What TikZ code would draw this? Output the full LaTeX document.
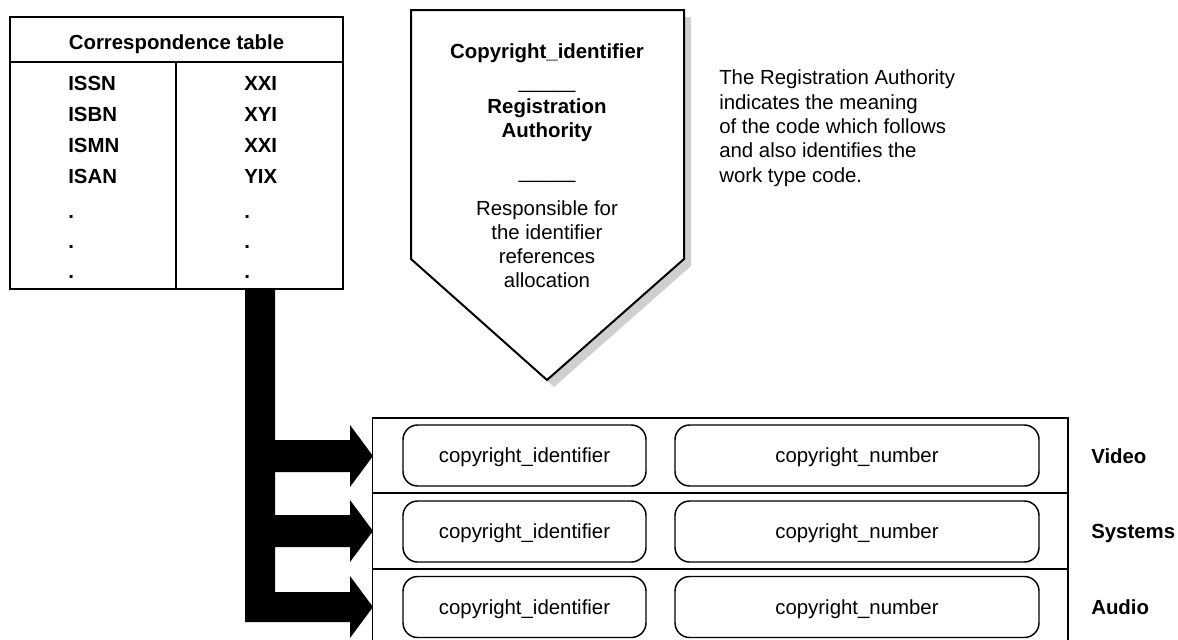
\documentclass[tikz,border=0pt]{standalone}
\usepackage{fontspec}
\setmainfont{Liberation Sans}
\begin{document}
\begin{tikzpicture}[x=0.75pt,y=-0.75pt,
  every node/.style={font=\fontsize{15.3pt}{18.2pt}\selectfont, inner sep=0pt},
  bftext/.style={font=\fontsize{15.3pt}{18.2pt}\selectfont\bfseries},
  tline/.style={line width=1.5pt},
  rbox/.style={draw, line width=1.1pt, rounded corners=11pt, inner sep=0pt,
    text height=10.95pt, text depth=0pt, minimum height=45.75pt},
  idbox/.style={rbox, minimum width=182.25pt},
  numbox/.style={rbox, minimum width=273pt},
  shadowfill/.style={fill=black!19, draw=none},
]
\useasboundingbox (0,0) rectangle (1178,639);
\clip (0,0) rectangle (1178,639);

% ---------- correspondence table ----------
\node[draw, tline, minimum width=249.75pt, minimum height=204pt] (tbl) at (176.5,153) {};
\coordinate (hl) at (10,62);
\coordinate (hr) at (343,62);
\draw[tline] (hl) -- (hr);
\coordinate (vt) at (176,62);
\coordinate (vb) at (176,289);
\draw[tline] (vt) -- (vb);
\node[bftext, anchor=base] (thead) at (176.5,49) {Correspondence table};
\node[bftext, anchor=base west] (l1) at (68,90) {ISSN};
\node[bftext, anchor=base west] (l2) at (68,121) {ISBN};
\node[bftext, anchor=base west] (l3) at (68,152) {ISMN};
\node[bftext, anchor=base west] (l4) at (68,183) {ISAN};
\node[bftext, anchor=base west] (l5) at (68,218) {.};
\node[bftext, anchor=base west] (l6) at (68,248) {.};
\node[bftext, anchor=base west] (l7) at (68,278) {.};
\node[bftext, anchor=base west] (r1) at (244,90) {XXI};
\node[bftext, anchor=base west] (r2) at (244,121) {XYI};
\node[bftext, anchor=base west] (r3) at (244,152) {XXI};
\node[bftext, anchor=base west] (r4) at (244,183) {YIX};
\node[bftext, anchor=base west] (r5) at (244,218) {.};
\node[bftext, anchor=base west] (r6) at (244,248) {.};
\node[bftext, anchor=base west] (r7) at (244,278) {.};

% ---------- branching black arrow ----------
\fill[black] (245,289) -- (275,289) -- (275,440) -- (350,440) -- (350,425) -- (373,456)
  -- (350,487) -- (350,472) -- (275,472) -- (275,515) -- (350,515) -- (350,500)
  -- (373,531) -- (350,562) -- (350,547) -- (275,547) -- (275,592) -- (350,592)
  -- (350,576) -- (373,607) -- (350,638) -- (350,622) -- (245,622) -- cycle;

% ---------- registration authority shield ----------
\fill[shadowfill] (418,17) -- (691,17) -- (691,266) -- (554,387) -- (418,266) -- cycle;
\draw[tline, fill=white] (411,10) -- (684,10) -- (684,259) -- (547,380) -- (411,259) -- cycle;
\node[bftext, anchor=base] (ci) at (547,58) {Copyright\_identifier};
\node[anchor=base] (sep1) at (547,88.5) {\_\_\_\_\_};
\node[bftext, anchor=base] (ra1) at (547,113) {Registration};
\node[bftext, anchor=base] (ra2) at (547,137) {Authority};
\node[anchor=base] (sep2) at (547,178.5) {\_\_\_\_\_};
\node[anchor=base] (rs1) at (547,215) {Responsible for};
\node[anchor=base] (rs2) at (547,239) {the identifier};
\node[anchor=base] (rs3) at (547,263) {references};
\node[anchor=base] (rs4) at (547,287) {allocation};

% ---------- explanatory text ----------
\node[anchor=base west, align=left] (note) at (719,182)
  {The Registration Authority\\indicates the meaning\\of the code which follows\\and also identifies the\\work type code.};

% ---------- streams frame ----------
\draw[line width=0.9pt] (372.7,650) -- (372.7,418) -- (1068,418) -- (1068,650);
\coordinate (d1l) at (372.7,493);
\coordinate (d1r) at (1068,493);
\coordinate (d2l) at (372.7,569);
\coordinate (d2r) at (1068,569);
\draw[tline] (d1l) -- (d1r);
\draw[tline] (d2l) -- (d2r);

\node[idbox] (id1) at (524.5,455.5) {copyright\_identifier};
\node[numbox] (nb1) at (857,455.5) {copyright\_number};
\node[idbox] (id2) at (524.5,531.5) {copyright\_identifier};
\node[numbox] (nb2) at (857,531.5) {copyright\_number};
\node[idbox] (id3) at (524.5,607) {copyright\_identifier};
\node[numbox] (nb3) at (857,607) {copyright\_number};

\node[bftext, anchor=base west] (video) at (1091,463) {Video};
\node[bftext, anchor=base west] (systems) at (1091,538) {Systems};
\node[bftext, anchor=base west] (audio) at (1091,614) {Audio};
\end{tikzpicture}
\end{document}
